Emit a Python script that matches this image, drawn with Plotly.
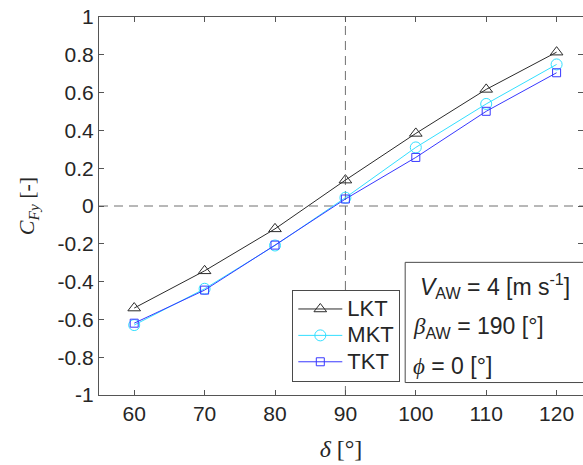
import plotly.graph_objects as go

delta = [60, 70, 80, 90, 100, 110, 120]
lkt = [-0.540, -0.343, -0.121, 0.137, 0.384, 0.617, 0.814]
mkt = [-0.630, -0.438, -0.209, 0.044, 0.310, 0.540, 0.749]
tkt = [-0.620, -0.445, -0.207, 0.037, 0.257, 0.501, 0.705]

xticks = [60, 70, 80, 90, 100, 110, 120]
yticks = [-1, -0.8, -0.6, -0.4, -0.2, 0, 0.2, 0.4, 0.6, 0.8, 1]
yticklabels = ["-1", "-0.8", "-0.6", "-0.4", "-0.2", "0", "0.2", "0.4", "0.6", "0.8", "1"]

W, H = 583, 465
ML, MR, MT, MB = 98.5, 0, 16.5, 69.5
pw = W - ML - MR
ph = H - MT - MB

def px_x(px):
    return (px - ML) / pw

def px_y(py):
    return (H - MB - py) / ph

def lg(name):
    return "<span style='font-size:22px'>" + name + "</span>"

fig = go.Figure()
fig.add_trace(go.Scatter(x=delta, y=lkt, name=lg("LKT"), mode="lines+markers",
                         line=dict(color="#2b2b2b", width=1),
                         marker=dict(symbol="triangle-up-open", size=11, color="#2b2b2b", line=dict(width=1))))
fig.add_trace(go.Scatter(x=delta, y=mkt, name=lg("MKT"), mode="lines+markers",
                         line=dict(color="#33dfff", width=1),
                         marker=dict(symbol="circle-open", size=11, color="#33dfff", line=dict(width=1))))
fig.add_trace(go.Scatter(x=delta, y=tkt, name=lg("TKT"), mode="lines+markers",
                         line=dict(color="#3838ff", width=1),
                         marker=dict(symbol="square-open", size=8, color="#3838ff", line=dict(width=1))))

axcol = "#555555"
fig.update_xaxes(range=[55, 123.75], tickvals=xticks, ticks="inside", ticklen=5, tickcolor=axcol,
                 showline=True, linecolor=axcol, linewidth=1, mirror="ticks", showgrid=False,
                 zeroline=False, tickfont=dict(family="Liberation Sans", size=21, color="#262626"),
                 title=dict(text="<i>δ</i> [°]", font=dict(family="Liberation Serif", size=24, color="#262626"),
                            standoff=15),
                 automargin=False)
fig.update_yaxes(range=[-1, 1], tickvals=yticks, ticktext=yticklabels, ticks="inside", ticklen=5,
                 tickcolor=axcol, showline=True, linecolor=axcol, linewidth=1, mirror="ticks",
                 showgrid=False, zeroline=False,
                 tickfont=dict(family="Liberation Sans", size=21, color="#262626"),
                 title=dict(text="<i>C</i><sub><i>Fy</i></sub> [-]",
                            font=dict(family="Liberation Serif", size=22, color="#262626"), standoff=16),
                 automargin=False)

# dashed reference lines
fig.add_shape(type="line", xref="x", yref="paper", x0=90, x1=90, y0=0, y1=1,
              line=dict(color="#707070", width=1, dash="9px,6px"), layer="below")
fig.add_shape(type="line", xref="paper", yref="y", x0=0, x1=1, y0=0, y1=0,
              line=dict(color="#707070", width=1, dash="9px,6px"), layer="below")

# info box
fig.add_shape(type="rect", xref="paper", yref="paper", x0=px_x(405), x1=1.05, y0=px_y(383), y1=px_y(262.5),
              line=dict(color="#4a4a4a", width=1), fillcolor="white", layer="above")
txtfont = dict(family="Liberation Sans", size=23, color="#262626")
lines = [
    ("<i>V</i><sub>AW</sub> = 4 [m s<sup>-1</sup>]", 286, 418),
    ("<i><span style='font-family:Liberation Serif'>β</span></i><sub>AW</sub> = 190 [°]", 328, 411),
    ("<i><span style='font-family:Liberation Serif'>ϕ</span></i> = 0 [°]", 366, 411),
]
for t, yc, xl in lines:
    fig.add_annotation(xref="paper", yref="paper", x=px_x(xl), y=px_y(yc), text=t, showarrow=False,
                       xanchor="left", yanchor="middle", font=txtfont, align="left")

fig.update_layout(
    width=W, height=H,
    margin=dict(l=ML, r=MR, t=MT, b=MB),
    plot_bgcolor="white", paper_bgcolor="white",
    showlegend=True,
    legend=dict(x=px_x(292), y=px_y(290), xanchor="left", yanchor="top",
                bgcolor="white", bordercolor="#4a4a4a", borderwidth=1,
                font=dict(family="Liberation Sans", size=18, color="#262626"),
                itemwidth=44, tracegroupgap=0),
)

fig.write_html("out.html", config={"displayModeBar": False},
               post_script="document.body.style.margin='0';document.body.style.overflow='hidden';")
